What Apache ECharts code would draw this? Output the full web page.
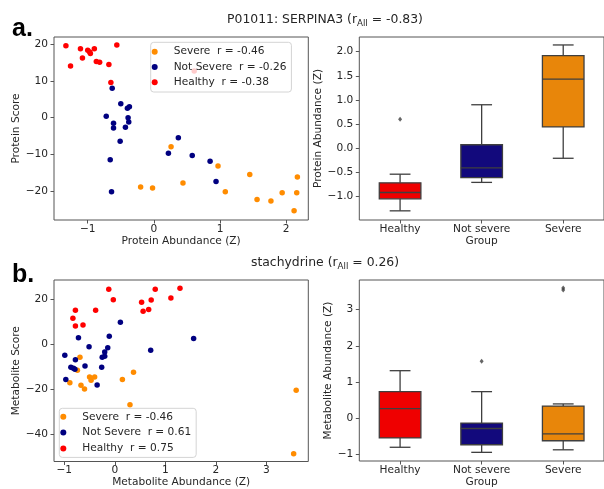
<!DOCTYPE html>
<html>
<head>
<meta charset="utf-8">
<script src="https://cdn.jsdelivr.net/npm/echarts@6/dist/echarts.min.js"></script>
<style>
html,body{margin:0;padding:0;background:#fff;}
#c{width:604px;height:489px;}
</style>
</head>
<body>
<div id="c"></div>
<script>
// ---------- data ----------
const groupCategories = ['Healthy', 'Not severe', 'Severe'];

// panel a: P01011 SERPINA3
const severeA_x = [-0.20, -0.02, 0.26, 0.44, 0.97, 1.08, 1.45, 1.56, 1.77, 1.94, 2.12, 2.16, 2.17];
const severeA_y = [-18.9, -19.2, -7.9, -17.8, -13.2, -20.2, -15.5, -22.3, -22.7, -20.5, -25.4, -20.5, -16.2];
const notSevereA_x = [-0.63, -0.50, -0.40, -0.37, -0.72, -0.39, -0.38, -0.61, -0.61, -0.43, -0.51, 0.37, -0.66, -0.64, 0.22, 0.58, 0.85, 0.94];
const notSevereA_y = [8.0, 3.8, 2.6, 3.0, 0.4, 0.0, -1.2, -1.5, -2.8, -2.6, -6.4, -5.5, -11.5, -20.2, -9.7, -10.3, -11.9, -17.4];
const healthyA_x = [-1.33, -1.26, -1.11, -1.08, -1.00, -0.97, -0.96, -0.90, -0.87, -0.82, -0.68, -0.65, -0.56, 0.61];
const healthyA_y = [19.6, 14.1, 18.8, 16.3, 18.4, 17.9, 17.5, 18.8, 15.3, 15.1, 14.5, 9.6, 19.8, 12.7];

// box stats [low whisker, Q1, median, Q3, high whisker] per group (Healthy, Not severe, Severe)
const boxA_healthy = [-1.30, -1.05, -0.92, -0.72, -0.54];
const boxA_notSevere = [-0.71, -0.61, -0.41, 0.07, 0.90];
const boxA_severe = [-0.21, 0.44, 1.43, 1.92, 2.14];
const outliersA_group = [0];
const outliersA_value = [0.60];

// panel b: stachydrine
const severeB_x = [-0.69, -0.74, -0.89, -0.67, -0.60, -0.50, -0.47, -0.40, 0.15, 0.37, 0.30, 3.59, 3.54];
const severeB_y = [-5.8, -11.5, -17.1, -18.2, -19.8, -14.5, -15.9, -14.5, -15.6, -12.4, -26.8, -20.4, -48.5];
const notSevereB_x = [0.11, -0.72, -0.11, -0.51, -0.99, -0.14, -0.78, -0.20, -0.20, -0.25, -0.59, -0.87, -0.82, -0.79, -0.26, -0.97, -0.35, 0.71, 1.56];
const notSevereB_y = [9.7, 2.9, 3.5, -1.1, -4.9, -1.6, -6.9, -3.4, -5.3, -5.8, -9.6, -10.2, -10.6, -11.1, -10.2, -15.6, -18.0, -2.7, 2.5];
const healthyB_x = [-0.12, -0.03, -0.78, -0.83, -0.78, -0.63, -0.38, 0.53, 0.56, 0.67, 0.72, 0.80, 1.11, 1.29];
const healthyB_y = [24.3, 19.7, 15.0, 11.5, 8.0, 8.5, 15.0, 18.6, 14.6, 15.3, 19.5, 24.3, 20.4, 24.8];

const boxB_healthy = [-0.81, -0.55, 0.26, 0.73, 1.31];
const boxB_notSevere = [-0.95, -0.74, -0.29, -0.14, 0.73];
const boxB_severe = [-0.88, -0.63, -0.44, 0.33, 0.39];
const outliersB_group = [1, 2, 2];
const outliersB_value = [1.57, 3.60, 3.54];

// tick labels
const ticksA_x = [-1, 0, 1, 2];
const ticksA_y = [-20, -10, 0, 10, 20];
const ticksA_box = [-1.0, -0.5, 0.0, 0.5, 1.0, 1.5, 2.0];
const ticksB_x = [-1, 0, 1, 2, 3];
const ticksB_y = [-40, -20, 0, 20];
const ticksB_box = [-1, 0, 1, 2, 3];

const legendA = ['Severe  r = -0.46', 'Not Severe  r = -0.26', 'Healthy  r = -0.38'];
const legendB = ['Severe  r = -0.46', 'Not Severe  r = 0.61', 'Healthy  r = 0.75'];

// ---------- styling ----------
const FONT = 'DejaVu Sans';
const C_SEVERE = '#ff8c00', C_NS = '#000080', C_H = '#ff0000';
const BOX_COLORS = ['#ef0000', '#12097c', '#e8860a'];
const EDGE = '#3f3f3f';
const AX = '#555';
const TXT = '#262626';

const zip = (xs, ys) => xs.map((x, i) => [x, ys[i]]);
const minus = v => String(v).replace('-', '\u2212');

function valueAxis(gi, min, max, ticks, fmt, name, nameGap, isY) {
  return {
    type: 'value', gridIndex: gi, min: min, max: max,
    name: name, nameLocation: 'middle', nameGap: nameGap,
    nameTextStyle: {fontFamily: FONT, fontSize: 10.6, color: TXT},
    axisLine: {show: false, onZero: false},
    splitLine: {show: false},
    axisTick: {show: true, length: 3.5, lineStyle: {color: AX, width: 1}, customValues: ticks},
    axisLabel: {fontFamily: FONT, fontSize: 10.6, color: TXT, margin: isY ? 6 : 3.5,
      customValues: ticks, formatter: fmt}
  };
}
function catAxis(gi, name) {
  return {
    type: 'category', gridIndex: gi, data: groupCategories, boundaryGap: true,
    name: name, nameLocation: 'middle', nameGap: 16,
    nameTextStyle: {fontFamily: FONT, fontSize: 10.6, color: TXT},
    axisLine: {show: false, onZero: false}, splitLine: {show: false},
    axisTick: {show: true, alignWithLabel: true, length: 3.5, lineStyle: {color: AX}},
    axisLabel: {fontFamily: FONT, fontSize: 10.6, color: TXT, margin: 3.5, interval: 0}
  };
}

function boxRender(params, api) {
  const i = api.value(0);
  const lo = api.value(1), q1 = api.value(2), md = api.value(3), q3 = api.value(4), hi = api.value(5);
  const band = api.size([1, 0])[0];
  const bw = band * 0.51, cw = bw / 2;
  const pLo = api.coord([i, lo]), pQ1 = api.coord([i, q1]), pMd = api.coord([i, md]),
        pQ3 = api.coord([i, q3]), pHi = api.coord([i, hi]);
  const cx = pMd[0];
  const ls = {stroke: EDGE, lineWidth: 1.3};
  return {
    type: 'group',
    children: [
      {type: 'line', shape: {x1: cx, y1: pQ1[1], x2: cx, y2: pLo[1]}, style: ls},
      {type: 'line', shape: {x1: cx, y1: pQ3[1], x2: cx, y2: pHi[1]}, style: ls},
      {type: 'line', shape: {x1: cx - cw / 2, y1: pLo[1], x2: cx + cw / 2, y2: pLo[1]}, style: ls},
      {type: 'line', shape: {x1: cx - cw / 2, y1: pHi[1], x2: cx + cw / 2, y2: pHi[1]}, style: ls},
      {type: 'rect', shape: {x: cx - bw / 2, y: pQ3[1], width: bw, height: pQ1[1] - pQ3[1]},
        style: {fill: BOX_COLORS[i], stroke: EDGE, lineWidth: 1.3}},
      {type: 'line', shape: {x1: cx - bw / 2, y1: pMd[1], x2: cx + bw / 2, y2: pMd[1]}, style: ls}
    ]
  };
}

function legendCfg(left, top, names, padding, gap) {
  return {
    left: left, top: top, orient: 'vertical', itemWidth: 28, itemHeight: 6, itemGap: gap,
    padding: padding, backgroundColor: 'rgba(255,255,255,0.8)', borderColor: '#d4d4d4',
    borderWidth: 1, borderRadius: 3, selectedMode: false,
    textStyle: {fontFamily: FONT, fontSize: 10.6, color: TXT, lineHeight: 12},
    data: names.map(n => ({name: n, icon: 'circle'}))
  };
}

const scatterS = (name, xi, yi, data, color) => ({
  type: 'scatter', name: name, xAxisIndex: xi, yAxisIndex: yi, data: data,
  symbol: 'circle', symbolSize: 5.5, itemStyle: {color: color, opacity: 1}, z: 2
});

const option = {
  animation: false,
  backgroundColor: '#fff',
  textStyle: {fontFamily: FONT},
  grid: [
    {left: 54, top: 37, width: 254.3, height: 183, show: true, borderColor: AX, borderWidth: 1},
    {left: 359.3, top: 37, width: 254.4, height: 183, show: true, borderColor: AX, borderWidth: 1},
    {left: 54, top: 280, width: 254.3, height: 182.3, show: true, borderColor: AX, borderWidth: 1},
    {left: 359.3, top: 280, width: 254.4, height: 182.7, show: true, borderColor: AX, borderWidth: 1}
  ],
  xAxis: [
    valueAxis(0, -1.51, 2.335, ticksA_x, minus, 'Protein Abundance (Z)', 15.5, false),
    catAxis(1, 'Group'),
    valueAxis(2, -1.204, 3.83, ticksB_x, minus, 'Metabolite Abundance (Z)', 15.5, false),
    catAxis(3, 'Group')
  ],
  yAxis: [
    valueAxis(0, -27.9, 22.0, ticksA_y, minus, 'Protein Score', 31, true),
    valueAxis(1, -1.49, 2.305, ticksA_box, v => minus(v.toFixed(1)), 'Protein Abundance (Z)', 32, true),
    valueAxis(2, -51.9, 28.4, ticksB_y, minus, 'Metabolite Score', 31, true),
    valueAxis(3, -1.19, 3.82, ticksB_box, minus, 'Metabolite Abundance (Z)', 23, true)
  ],
  legend: [
    legendCfg(150.7, 42.3, legendA, [3.4, 5, 3.7, 1], 3.3),
    legendCfg(59.3, 408.3, legendB, [2.5, 5, 3, 1], 3.8)
  ],
  series: [
    scatterS(legendA[0], 0, 0, zip(severeA_x, severeA_y), C_SEVERE),
    scatterS(legendA[1], 0, 0, zip(notSevereA_x, notSevereA_y), C_NS),
    scatterS(legendA[2], 0, 0, zip(healthyA_x, healthyA_y), C_H),
    scatterS(legendB[0], 2, 2, zip(severeB_x, severeB_y), C_SEVERE),
    scatterS(legendB[1], 2, 2, zip(notSevereB_x, notSevereB_y), C_NS),
    scatterS(legendB[2], 2, 2, zip(healthyB_x, healthyB_y), C_H),
    {type: 'custom', name: 'boxA', xAxisIndex: 1, yAxisIndex: 1, renderItem: boxRender,
      encode: {x: 0, y: [1, 2, 3, 4, 5]},
      data: [boxA_healthy, boxA_notSevere, boxA_severe].map((s, i) => [i].concat(s))},
    {type: 'custom', name: 'boxB', xAxisIndex: 3, yAxisIndex: 3, renderItem: boxRender,
      encode: {x: 0, y: [1, 2, 3, 4, 5]},
      data: [boxB_healthy, boxB_notSevere, boxB_severe].map((s, i) => [i].concat(s))},
    {type: 'scatter', name: 'outA', xAxisIndex: 1, yAxisIndex: 1, symbol: 'diamond', symbolSize: [4, 5],
      itemStyle: {color: EDGE}, data: zip(outliersA_group, outliersA_value)},
    {type: 'scatter', name: 'outB', xAxisIndex: 3, yAxisIndex: 3, symbol: 'diamond', symbolSize: [4, 5],
      itemStyle: {color: EDGE}, data: zip(outliersB_group, outliersB_value)}
  ],
  graphic: [
    {type: 'text', left: 12, top: 17, style: {text: 'a.', font: 'bold 25px "Liberation Sans"', fill: '#000'}},
    {type: 'text', left: 12, top: 263, style: {text: 'b.', font: 'bold 25px "Liberation Sans"', fill: '#000'}},
    {type: 'text', x: 325, y: 20, style: {
      text: 'P01011: SERPINA3 (r{sub|All} = -0.83)', textAlign: 'center', textVerticalAlign: 'middle',
      font: '12.4px "DejaVu Sans"', fill: TXT, lineHeight: 16,
      rich: {sub: {fontSize: 8.7, fontFamily: FONT, lineHeight: 9, verticalAlign: 'bottom', fill: TXT}}}},
    {type: 'text', x: 325, y: 263, style: {
      text: 'stachydrine (r{sub|All} = 0.26)', textAlign: 'center', textVerticalAlign: 'middle',
      font: '12.4px "DejaVu Sans"', fill: TXT, lineHeight: 16,
      rich: {sub: {fontSize: 8.7, fontFamily: FONT, lineHeight: 9, verticalAlign: 'bottom', fill: TXT}}}}
  ]
};

const chart = echarts.init(document.getElementById('c'), null, {renderer: 'canvas', width: 604, height: 489});
chart.setOption(option);
</script>
</body>
</html>
